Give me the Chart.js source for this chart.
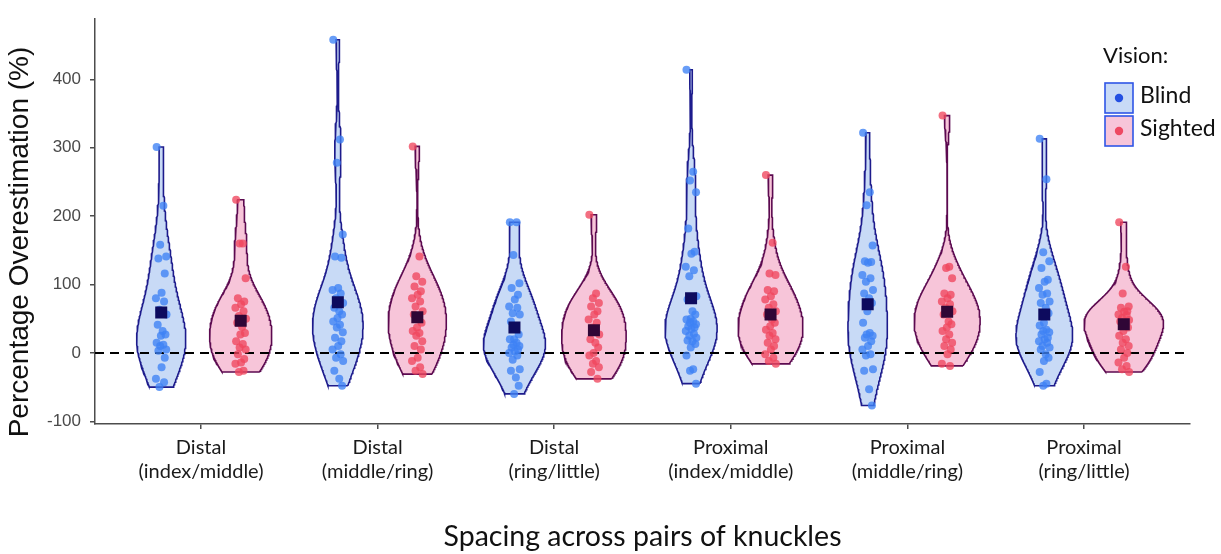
<!DOCTYPE html>
<html>
<head>
<meta charset="utf-8">
<script src="https://cdn.jsdelivr.net/npm/chart.js@4.4.1/dist/chart.umd.min.js"></script>
<style>
  html, body { margin: 0; padding: 0; background: #ffffff; }
  #wrap { width: 1221px; height: 554px; position: relative; }
</style>
</head>
<body>
<div id="wrap"><canvas id="chart" width="1221" height="554"></canvas></div>
<script>
// ---- data -------------------------------------------------------------
const categories = [
  ["Distal", "(index/middle)"],
  ["Distal", "(middle/ring)"],
  ["Distal", "(ring/little)"],
  ["Proximal", "(index/middle)"],
  ["Proximal", "(middle/ring)"],
  ["Proximal", "(ring/little)"]
];
const yTicks = [-100, 0, 100, 200, 300, 400];

// Percentage overestimation per participant, blind group
const blindDistalIndexMiddle   = [301, 215, 158, 141, 138, 116, 88, 80, 75, 63, 56, 41, 32, 27, 25, 15, 12, 10, 5, 3, -7, -21, -38, -43, -50];
const blindDistalMiddleRing    = [458, 312, 278, 173, 141, 139, 95, 92, 87, 80, 73, 66, 61, 56, 51, 46, 41, 37, 30, 22, 17, 10, 5, -2, -7, -12, -26, -38, -48];
const blindDistalRingLittle    = [191, 191, 143, 102, 95, 85, 78, 68, 66, 58, 56, 46, 37, 27, 20, 20, 15, 12, 10, 8, 5, 2, 0, -4, -10, -24, -26, -36, -48, -60];
const blindProximalIndexMiddle = [414, 265, 252, 235, 182, 148, 145, 126, 121, 112, 83, 78, 61, 56, 50, 49, 46, 44, 42, 39, 37, 35, 32, 28, 25, 22, 18, 17, 13, 8, -4, -24, -26, -45];
const blindProximalMiddleRing  = [322, 235, 216, 157, 134, 133, 132, 114, 109, 104, 92, 87, 80, 73, 61, 44, 29, 27, 25, 22, 17, 10, 5, -2, -4, -24, -26, -53, -77];
const blindProximalRingLittle  = [313, 254, 147, 134, 124, 107, 104, 95, 87, 85, 75, 73, 66, 58, 44, 40, 34, 32, 30, 27, 22, 20, 17, 15, 10, 8, 5, -2, -7, -12, -28, -45, -48];

// Percentage overestimation per participant, sighted group
const sightedDistalIndexMiddle   = [224, 160, 160, 109, 80, 75, 71, 66, 61, 54, 50, 44, 38, 29, 27, 17, 13, 8, 5, -2, -9, -14, -16, -26, -28];
const sightedDistalMiddleRing    = [302, 141, 112, 104, 97, 90, 85, 80, 75, 68, 61, 56, 49, 44, 37, 32, 29, 25, 17, 10, 5, -7, -12, -21, -26, -31];
const sightedDistalRingLittle    = [202, 87, 80, 73, 68, 61, 56, 49, 44, 37, 27, 20, 15, 8, 0, -4, -12, -16, -21, -28, -38];
const sightedProximalIndexMiddle = [260, 161, 116, 114, 92, 90, 83, 78, 71, 66, 61, 56, 49, 44, 39, 34, 29, 25, 20, 15, 10, 5, -2, -7, -12, -16];
const sightedProximalMiddleRing  = [347, 126, 124, 109, 87, 85, 80, 75, 71, 66, 61, 56, 46, 42, 37, 32, 27, 20, 15, 10, 5, -2, -16, -19];
const sightedProximalRingLittle  = [191, 126, 87, 68, 66, 61, 60, 56, 55, 51, 48, 46, 42, 37, 32, 25, 20, 15, 10, 5, 0, -7, -14, -19, -24, -28];

// Group means (square markers)
const blindMeans   = [59, 74, 37, 80, 71, 56];
const sightedMeans = [47, 52, 33, 56, 60, 42];

const blindGroups = [blindDistalIndexMiddle, blindDistalMiddleRing, blindDistalRingLittle,
                     blindProximalIndexMiddle, blindProximalMiddleRing, blindProximalRingLittle];
const sightedGroups = [sightedDistalIndexMiddle, sightedDistalMiddleRing, sightedDistalRingLittle,
                       sightedProximalIndexMiddle, sightedProximalMiddleRing, sightedProximalRingLittle];

// ---- layout / style constants ------------------------------------------
const X_MIN = 0.4, X_MAX = 6.6;
const DODGE = 0.225;        // offset of each vision group from the category centre
const HALF_WIDTH = 0.225;   // half-width of the widest violin
const BW_ADJUST = 1.3;      // smoothing multiplier for the density estimate
const JITTER = [-0.026, 0.012, -0.006, 0.028, -0.016, 0.02, 0.002, -0.03, 0.016, -0.01, 0.03, -0.02, 0.008, 0.024, -0.002];

const COLORS = {
  blindFill: '#c8daf6', blindLine: '#1d1b8c', blindPoint: 'rgba(62,130,245,0.78)', blindMean: '#0d0b5e',
  sightedFill: '#f7c5d9', sightedLine: '#5c0a50', sightedPoint: 'rgba(240,70,94,0.78)', sightedMean: '#2f0636',
  axis: '#4d4d4d', tickText: '#4a4a4a', text: '#111111', legendBorder: '#2f55e6'
};

// ---- kernel density (Gaussian, Silverman's rule) -----------------------
function quantile(sorted, p) {
  const h = (sorted.length - 1) * p;
  const lo = Math.floor(h);
  const hi = Math.min(lo + 1, sorted.length - 1);
  return sorted[lo] + (h - lo) * (sorted[hi] - sorted[lo]);
}
function bandwidth(values) {
  const s = [...values].sort((a, b) => a - b);
  const n = values.length;
  const mean = values.reduce((a, b) => a + b, 0) / n;
  const sd = Math.sqrt(values.reduce((a, b) => a + (b - mean) ** 2, 0) / (n - 1));
  const iqr = (quantile(s, 0.75) - quantile(s, 0.25)) / 1.34;
  let lo = Math.min(sd, iqr);
  if (!(lo > 0)) lo = sd || 1;
  return 0.9 * lo * Math.pow(n, -0.2) * BW_ADJUST;
}
function densityCurve(values, steps = 200) {
  const bw = bandwidth(values);
  const lo = Math.min(...values), hi = Math.max(...values);
  const norm = 1 / (values.length * bw * Math.sqrt(2 * Math.PI));
  const out = [];
  for (let k = 0; k < steps; k++) {
    const y = lo + (hi - lo) * k / (steps - 1);
    let d = 0;
    for (const v of values) d += Math.exp(-0.5 * ((y - v) / bw) ** 2);
    out.push({ y, d: d * norm });
  }
  return out;
}

const blindCurves = blindGroups.map(g => densityCurve(g));
const sightedCurves = sightedGroups.map(g => densityCurve(g));
const maxDensity = Math.max(...[...blindCurves, ...sightedCurves].flat().map(p => p.d));

function violinOutline(curve, centre) {
  const right = curve.map(p => ({ x: centre + HALF_WIDTH * p.d / maxDensity, y: p.y }));
  const left = curve.slice().reverse().map(p => ({ x: centre - HALF_WIDTH * p.d / maxDensity, y: p.y }));
  const pts = right.concat(left);
  pts.push({ ...pts[0] });
  return pts;
}

// ---- datasets ----------------------------------------------------------
const datasets = [];
categories.forEach((_, i) => {
  datasets.push({
    type: 'line', data: violinOutline(blindCurves[i], i + 1 - DODGE),
    borderColor: COLORS.blindLine, backgroundColor: COLORS.blindFill, borderWidth: 1.6,
    fill: 'shape', pointRadius: 0, tension: 0, order: 5
  });
  datasets.push({
    type: 'line', data: violinOutline(sightedCurves[i], i + 1 + DODGE),
    borderColor: COLORS.sightedLine, backgroundColor: COLORS.sightedFill, borderWidth: 1.6,
    fill: 'shape', pointRadius: 0, tension: 0, order: 5
  });
});

// reference line at zero
datasets.push({
  type: 'line', data: [{ x: X_MIN, y: 0 }, { x: X_MAX, y: 0 }],
  borderColor: '#000000', borderWidth: 2, borderDash: [9, 6], pointRadius: 0, fill: false, order: 4
});

function jittered(groups, shift) {
  const pts = [];
  groups.forEach((g, i) => g.forEach((v, k) => pts.push({ x: i + 1 + shift + JITTER[k % JITTER.length], y: v })));
  return pts;
}
datasets.push({
  type: 'scatter', data: jittered(blindGroups, -DODGE),
  backgroundColor: COLORS.blindPoint, borderWidth: 0, pointRadius: 4, order: 3
});
datasets.push({
  type: 'scatter', data: jittered(sightedGroups, DODGE),
  backgroundColor: COLORS.sightedPoint, borderWidth: 0, pointRadius: 4, order: 3
});
datasets.push({
  type: 'scatter', data: blindMeans.map((m, i) => ({ x: i + 1 - DODGE, y: m })),
  backgroundColor: COLORS.blindMean, borderWidth: 0, pointStyle: 'rect', pointRadius: 8.5, order: 1
});
datasets.push({
  type: 'scatter', data: sightedMeans.map((m, i) => ({ x: i + 1 + DODGE, y: m })),
  backgroundColor: COLORS.sightedMean, borderWidth: 0, pointStyle: 'rect', pointRadius: 8.5, order: 1
});

// ---- y-axis title, set slightly below the panel centre ------------------
const yAxisTitle = {
  id: 'yAxisTitle',
  afterDraw(chart) {
    const ctx = chart.ctx;
    ctx.save();
    ctx.translate(20, 242);
    ctx.rotate(-Math.PI / 2);
    ctx.font = '28px "Liberation Sans"';
    ctx.fillStyle = COLORS.text;
    ctx.textAlign = 'center';
    ctx.textBaseline = 'middle';
    ctx.fillText('Percentage Overestimation (%)', 0, 0);
    ctx.restore();
  }
};

// ---- legend ("Vision:") drawn inside the panel's upper right -----------
const visionLegend = {
  id: 'visionLegend',
  afterDraw(chart) {
    const ctx = chart.ctx;
    ctx.save();
    ctx.fillStyle = COLORS.text;
    ctx.textBaseline = 'middle';
    ctx.textAlign = 'left';
    ctx.font = '22px Lato';
    ctx.fillText('Vision:', 1103, 56);
    ctx.font = '23px Lato';
    const items = [
      { label: 'Blind', fill: COLORS.blindFill, dot: '#2450e2', y: 83 },
      { label: 'Sighted', fill: COLORS.sightedFill, dot: '#ee4862', y: 116 }
    ];
    items.forEach(it => {
      ctx.fillStyle = it.fill;
      ctx.fillRect(1105, it.y, 28, 30);
      ctx.strokeStyle = COLORS.legendBorder;
      ctx.lineWidth = 1.6;
      ctx.strokeRect(1105, it.y, 28, 30);
      ctx.beginPath();
      ctx.fillStyle = it.dot;
      ctx.arc(1119, it.y + 15, 4.2, 0, Math.PI * 2);
      ctx.fill();
      ctx.fillStyle = COLORS.text;
      ctx.fillText(it.label, 1140, it.y + 13);
    });
    ctx.restore();
  }
};

new Chart(document.getElementById('chart'), {
  type: 'scatter',
  data: { datasets },
  plugins: [yAxisTitle, visionLegend],
  options: {
    responsive: false,
    devicePixelRatio: 1,
    animation: false,
    events: [],
    layout: { padding: { left: 0, right: 31, top: 17, bottom: 0 } },
    plugins: { legend: { display: false }, tooltip: { enabled: false } },
    scales: {
      x: {
        type: 'linear', min: X_MIN, max: X_MAX,
        afterBuildTicks: scale => { scale.ticks = categories.map((_, i) => ({ value: i + 1 })); },
        afterFit: scale => { scale.height = 130; },
        ticks: {
          callback: v => categories[Math.round(v) - 1],
          font: { family: 'Lato', size: 20, lineHeight: 1.2 }, color: '#1a1a1a', padding: 7,
          maxRotation: 0, autoSkip: false
        },
        grid: { display: true, drawOnChartArea: false, drawTicks: true, tickLength: 5, color: COLORS.axis, lineWidth: 1.5 },
        border: { display: true, color: COLORS.axis, width: 1.5 },
        title: {
          display: true, text: 'Spacing across pairs of knuckles',
          font: { family: 'Lato', size: 28.5 }, color: COLORS.text, padding: { top: 0, bottom: 0 }
        }
      },
      y: {
        type: 'linear', min: -104, max: 488,
        afterBuildTicks: scale => { scale.ticks = yTicks.map(v => ({ value: v })); },
        afterFit: scale => { scale.width = 95; },
        ticks: { font: { family: 'Liberation Sans', size: 17 }, color: COLORS.tickText, padding: 9 },
        grid: { display: true, drawOnChartArea: false, drawTicks: true, tickLength: 5, color: COLORS.axis, lineWidth: 1.5 },
        border: { display: true, color: COLORS.axis, width: 1.5 },
        title: { display: false }
      }
    }
  }
});
</script>
</body>
</html>
